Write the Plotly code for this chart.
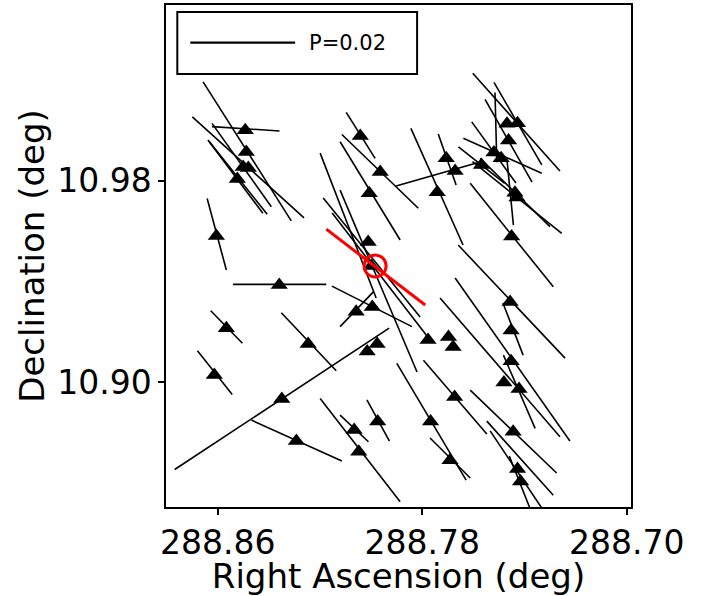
import plotly.graph_objects as go

# ---------------- data (RA / Dec in degrees) ----------------
# star markers (triangles)
tri_ra = [288.8492, 288.8488, 288.8500, 288.8480, 288.8523, 288.8605, 288.8359, 288.8566,
          288.8246, 288.8613, 288.8349, 288.8292, 288.8042, 288.7964, 288.8007, 288.7706,
          288.7671, 288.7741, 288.8011, 288.7999, 288.8058, 288.7995, 288.8015, 288.7976,
          288.7777, 288.7697, 288.7679, 288.7673, 288.7767, 288.7974, 288.8066, 288.8048,
          288.7691, 288.7468, 288.7427, 288.7462, 288.7519, 288.7491, 288.7568, 288.7437,
          288.7429, 288.7450, 288.7456, 288.7452, 288.7452, 288.7480, 288.7421, 288.7444,
          288.7427, 288.7415]
tri_dec = [11.0000, 10.9913, 10.9854, 10.9850, 10.9806, 10.9580, 10.9385, 10.9214,
           10.9151, 10.9028, 10.8933, 10.8766, 10.9977, 10.9834, 10.9750, 10.9889,
           10.9838, 10.9754, 10.9556, 10.9461, 10.9279, 10.9298, 10.9121, 10.9151,
           10.9167, 10.9179, 10.9139, 10.8941, 10.8843, 10.8843, 10.8810, 10.8723,
           10.8690, 11.0026, 11.0028, 10.9959, 10.9911, 10.9889, 10.9862, 10.9752,
           10.9733, 10.9578, 10.9318, 10.9205, 10.9083, 10.8998, 10.8972, 10.8803,
           10.8655, 10.8605]

# polarization vectors: start / end points
vec_ra0 = [288.8657, 288.8699, 288.8622, 288.8638, 288.8632, 288.8622, 288.8641, 288.8540,
           288.8627, 288.8351, 288.8679, 288.8768, 288.8468, 288.8097, 288.8114, 288.8121,
           288.7902, 288.7602, 288.7519, 288.7639, 288.7515, 288.7612, 288.7603, 288.7573,
           288.7468, 288.7659, 288.7730, 288.7671, 288.7547, 288.7612, 288.7482, 288.8199,
           288.8121, 288.8016, 288.8121, 288.8153, 288.8199, 288.8187, 288.8152, 288.8121,
           288.7844, 288.7737, 288.7795, 288.7899, 288.7769, 288.7484, 288.7534, 288.7459,
           288.7658, 288.7606, 288.7554]
vec_dec0 = [11.0192, 11.0053, 11.0027, 10.9961, 10.9954, 11.0014, 10.9729, 10.9388,
            10.9283, 10.9275, 10.9124, 10.8653, 10.8849, 11.0071, 10.9983, 10.9954,
            10.9778, 11.0226, 11.0190, 10.9968, 11.0150, 10.9789, 10.9875, 10.9888,
            10.9881, 10.9544, 10.9334, 10.9413, 10.8845, 10.8968, 10.9107, 10.8935,
            10.8869, 10.8929, 10.9220, 10.9381, 10.9909, 10.9731, 10.9671, 10.9762,
            11.0007, 10.9985, 10.9087, 10.9074, 10.8778, 10.9314, 10.8806, 10.8706,
            10.9934, 11.0033, 11.0122]
vec_ra1 = [288.8312, 288.8262, 288.8390, 288.8423, 288.8406, 288.8358, 288.8566, 288.8175,
           288.8503, 288.8136, 288.8543, 288.7929, 288.8114, 288.7984, 288.7815, 288.7886,
           288.7570, 288.7261, 288.7332, 288.7332, 288.7508, 288.7287, 288.7254, 288.7300,
           288.7443, 288.7241, 288.7261, 288.7222, 288.7287, 288.7274, 288.7358, 288.7886,
           288.8010, 288.7928, 288.7990, 288.7840, 288.7980, 288.7808, 288.7769, 288.7820,
           288.7640, 288.7667, 288.7547, 288.7628, 288.7612, 288.7405, 288.7319, 288.7371,
           288.7477, 288.7433, 288.7370]
vec_dec1 = [10.9640, 10.9652, 10.9696, 10.9670, 10.9666, 10.9997, 10.9445, 10.9388,
            10.9154, 10.9045, 10.8951, 10.9214, 10.8687, 10.9888, 10.9690, 10.9564,
            10.9875, 10.9838, 10.9862, 10.9829, 10.9873, 10.9378, 10.9590, 10.9617,
            10.9623, 10.9095, 10.8783, 10.8766, 10.8551, 10.8639, 10.8816, 10.8525,
            10.8763, 10.8766, 10.9359, 10.9220, 10.9334, 10.9258, 10.9167, 10.9040,
            10.9544, 10.9782, 10.8794, 10.8611, 10.8619, 10.9107, 10.8480, 10.8480,
            10.9789, 10.9790, 10.9794]

# target source (red)
src_ra = [288.7984]
src_dec = [10.9461]
src_vec_ra = [288.8175, 288.7788]
src_vec_dec = [10.9607, 10.9306]

x_ticks = [288.86, 288.78, 288.70]
x_ticktext = ["288.86", "288.78", "288.70"]
y_ticks = [10.98, 10.90]
y_ticktext = ["10.98", "10.90"]
legend_label = "P=0.02"

# ---------------- figure ----------------
seg_x, seg_y = [], []
for a, b, c, d in zip(vec_ra0, vec_dec0, vec_ra1, vec_dec1):
    seg_x += [a, c, None]
    seg_y += [b, d, None]

fig = go.Figure()
fig.add_trace(go.Scatter(x=seg_x, y=seg_y, mode="lines",
                         line=dict(color="black", width=1.6), showlegend=False,
                         hoverinfo="skip"))
fig.add_trace(go.Scatter(x=tri_ra, y=tri_dec, mode="markers",
                         marker=dict(symbol="triangle-up", size=15, color="black"),
                         showlegend=False))
fig.add_trace(go.Scatter(x=src_vec_ra, y=src_vec_dec, mode="lines",
                         line=dict(color="red", width=3), showlegend=False))
fig.add_trace(go.Scatter(x=src_ra, y=src_dec, mode="markers",
                         marker=dict(symbol="circle-open", size=22,
                                     line=dict(color="red", width=3), color="red"),
                         showlegend=False))

font = "DejaVu Sans, Arial, sans-serif"
fig.update_layout(
    width=707, height=596,
    margin=dict(l=166, r=76, t=5, b=89, autoexpand=False),
    paper_bgcolor="white", plot_bgcolor="white",
    font=dict(family=font, color="black"),
    showlegend=False,
)
fig.update_xaxes(range=[288.8802, 288.6983], tickvals=x_ticks, ticktext=x_ticktext,
                 ticks="outside", ticklen=6, tickwidth=1.5, tickcolor="black",
                 showline=True, linecolor="black", linewidth=1.5, mirror=True,
                 showgrid=False, zeroline=False, tickfont=dict(size=33),
                 title=dict(text="Right Ascension (deg)", font=dict(size=34), standoff=0))
fig.update_yaxes(range=[10.8504, 11.0497], tickvals=y_ticks, ticktext=y_ticktext,
                 ticks="outside", ticklen=6, tickwidth=1.5, tickcolor="black",
                 showline=True, linecolor="black", linewidth=1.5, mirror=True,
                 showgrid=False, zeroline=False, tickfont=dict(size=33),
                 title=dict(text="Declination (deg)", font=dict(size=34), standoff=2))

# legend box drawn in paper coordinates
fig.add_shape(type="rect", xref="paper", yref="paper", x0=0.0243, x1=0.540, y0=0.8625, y1=0.986,
              line=dict(color="black", width=2), fillcolor="white", layer="above")
fig.add_shape(type="line", xref="paper", yref="paper", x0=0.0522, x1=0.2777, y0=0.9249, y1=0.9249,
              line=dict(color="black", width=2.2), layer="above")
fig.add_annotation(text=legend_label, xref="paper", yref="paper", x=0.3037, y=0.9249,
                   xanchor="left", yanchor="middle", showarrow=False,
                   font=dict(size=21, family=font, color="black"))

fig.write_html("out.html", config={"displayModeBar": False},
               post_script="document.body.style.margin='0';")
